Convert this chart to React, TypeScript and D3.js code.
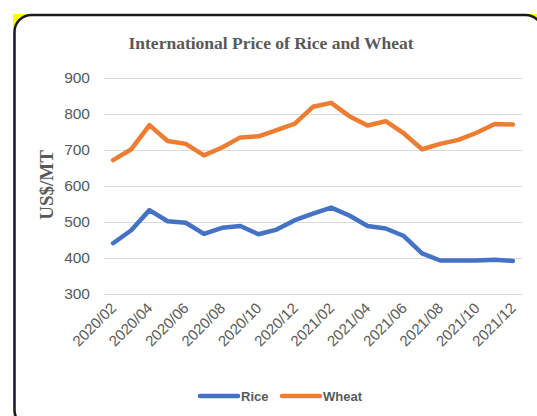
import { useEffect, useRef } from "react"
import * as d3 from "d3"

const months = [
  "2020/02", "2020/03", "2020/04", "2020/05", "2020/06", "2020/07", "2020/08", "2020/09",
  "2020/10", "2020/11", "2020/12", "2021/01", "2021/02", "2021/03", "2021/04", "2021/05",
  "2021/06", "2021/07", "2021/08", "2021/09", "2021/10", "2021/11", "2021/12",
]
const rice = [441, 477, 533, 502, 498, 467, 484, 489, 466, 479, 505, 523, 540, 518, 489, 482, 461, 413, 393, 393, 393, 395, 392]
const wheat = [672, 702, 769, 725, 717, 685, 707, 735, 738, 755, 773, 820, 831, 794, 768, 780, 746, 702, 717, 728, 748, 772, 771]
const yTicks = [300, 400, 500, 600, 700, 800, 900]

const series = [
  { name: "Rice", values: rice, color: "#4472C4" },
  { name: "Wheat", values: wheat, color: "#ED7D31" },
]

export default function App() {
  const svgRef = useRef<SVGSVGElement>(null)

  useEffect(() => {
    if (!svgRef.current) return
    const svg = d3.select(svgRef.current)
    svg.selectAll("*").remove()

    // background frame
    svg.append("rect").attr("x", 13).attr("y", 14).attr("width", 530).attr("height", 410).attr("fill", "#FFFF00")
    svg
      .append("rect")
      .attr("x", 14.5)
      .attr("y", 15)
      .attr("width", 528)
      .attr("height", 412)
      .attr("rx", 17)
      .attr("fill", "#fff")
      .attr("stroke", "#1a1a1a")
      .attr("stroke-width", 2.5)

    const x = d3.scaleBand<string>().domain(months).range([104, 522])
    const cx = (m: string) => (x(m) ?? 0) + x.bandwidth() / 2
    const y = d3.scaleLinear().domain([300, 900]).range([294, 78])

    // title
    svg
      .append("text")
      .attr("x", 271)
      .attr("y", 49)
      .attr("text-anchor", "middle")
      .attr("font-family", "Liberation Serif, serif")
      .attr("font-weight", "bold")
      .attr("font-size", 17.5)
      .attr("fill", "#595959")
      .text("International Price of Rice and Wheat")

    // y axis label
    svg
      .append("text")
      .attr("transform", "translate(53,185) rotate(-90)")
      .attr("text-anchor", "middle")
      .attr("font-family", "Liberation Serif, serif")
      .attr("font-weight", "bold")
      .attr("font-size", 19)
      .attr("fill", "#595959")
      .text("US$/MT")

    // grid + y ticks
    const grid = svg.append("g")
    yTicks.forEach((t) => {
      grid
        .append("line")
        .attr("x1", 104)
        .attr("x2", 522)
        .attr("y1", Math.round(y(t)) + 0.5)
        .attr("y2", Math.round(y(t)) + 0.5)
        .attr("stroke", "#D9D9D9")
        .attr("stroke-width", 1)
      grid
        .append("text")
        .attr("x", 90)
        .attr("y", y(t))
        .attr("dy", "0.35em")
        .attr("text-anchor", "end")
        .attr("font-family", "Liberation Sans, Arial, sans-serif")
        .attr("font-size", 15.5)
        .attr("fill", "#595959")
        .text(t)
    })

    // x tick labels (every other month)
    svg
      .append("g")
      .selectAll("text")
      .data(months.filter((_, i) => i % 2 === 0))
      .enter()
      .append("text")
      .attr("transform", (d) => `translate(${cx(d) + 4},${309}) rotate(-45)`)
      .attr("text-anchor", "end")
      .attr("font-family", "Liberation Sans, Arial, sans-serif")
      .attr("font-size", 15)
      .attr("fill", "#595959")
      .text((d) => d)

    // lines
    const line = d3
      .line<number>()
      .x((_, i) => cx(months[i]))
      .y((d) => y(d))

    series.forEach((s) => {
      svg
        .append("path")
        .attr("d", line(s.values))
        .attr("fill", "none")
        .attr("stroke", s.color)
        .attr("stroke-width", 4.5)
        .attr("stroke-linejoin", "round")
        .attr("stroke-linecap", "round")
    })

    // legend
    const legend = svg
      .append("g")
      .selectAll("g")
      .data(series)
      .enter()
      .append("g")
      .attr("transform", (d, i) => `translate(${i === 0 ? 200 : 282},396)`)

    legend
      .append("line")
      .attr("x1", 0)
      .attr("x2", 38)
      .attr("stroke", (d) => d.color)
      .attr("stroke-width", 4.5)
      .attr("stroke-linecap", "round")

    legend
      .append("text")
      .attr("x", 41)
      .attr("dy", "0.35em")
      .attr("font-family", "Liberation Sans, Arial, sans-serif")
      .attr("font-weight", "bold")
      .attr("font-size", 13)
      .attr("fill", "#595959")
      .text((d) => d.name)
  }, [])

  return (
    <svg
      ref={svgRef}
      width={537}
      height={416}
      style={{ position: "absolute", left: 0, top: 0, background: "#fff" }}
    />
  )
}
